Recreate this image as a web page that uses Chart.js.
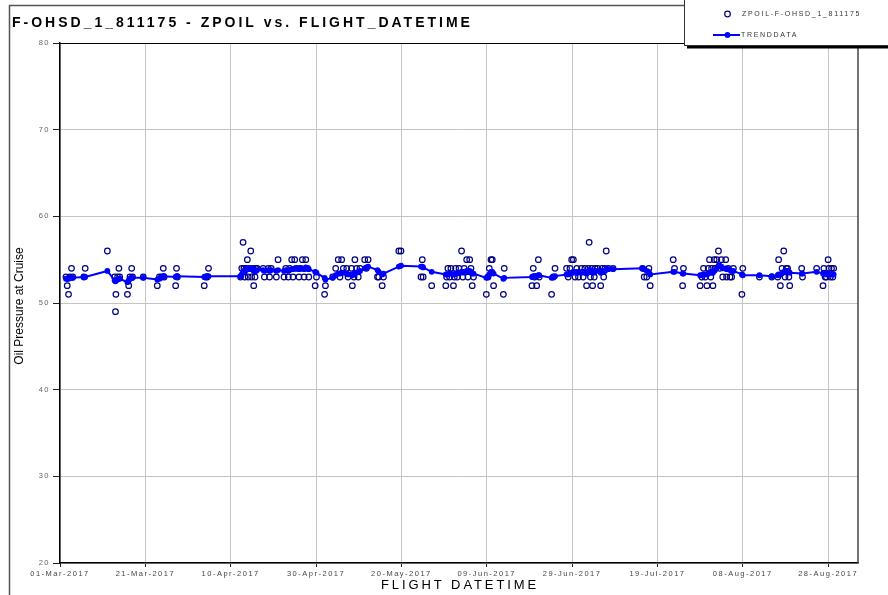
<!DOCTYPE html>
<html>
<head>
<meta charset="utf-8">
<script src="https://cdn.jsdelivr.net/npm/chart.js@4.4.1/dist/chart.umd.min.js"></script>
<style>
  html, body { margin: 0; padding: 0; background: #fff; }
  #wrap { width: 888px; height: 595px; position: relative; }
</style>
</head>
<body>
<div id="wrap"><canvas id="oilChart"></canvas></div>
<script>
const chartTitle = 'F-OHSD_1_811175 - ZPOIL vs. FLIGHT_DATETIME';
const seriesNames = ['ZPOIL-F-OHSD_1_811175', 'TRENDDATA'];
const xAxisTitle = 'FLIGHT DATETIME';
const yAxisTitle = 'Oil Pressure at Cruise';

// x values are days counted from 01-Mar-2017
const xTickDays = [0, 20, 40, 60, 80, 100, 120, 140, 160, 180];
const xTickLabels = ['01-Mar-2017', '21-Mar-2017', '10-Apr-2017', '30-Apr-2017', '20-May-2017',
  '09-Jun-2017', '29-Jun-2017', '19-Jul-2017', '08-Aug-2017', '28-Aug-2017'];
const yTicks = [20, 30, 40, 50, 60, 70, 80];

const flightDays = [
  1.4, 1.7, 2.0, 2.3, 2.7, 3.0, 5.6, 5.9, 11.1, 12.8, 13.0, 13.1, 13.5, 13.8, 14.0, 15.8, 16.1,
  16.4, 16.8, 17.0, 19.5, 22.8, 23.3, 23.8, 24.2, 24.4, 27.1, 27.3, 27.5, 33.8, 34.1, 34.5, 34.8,
  42.3, 42.6, 42.9, 43.1, 43.3, 43.6, 43.9, 44.1, 44.4, 44.7, 44.9, 45.2, 45.4, 45.7, 45.9, 46.2,
  47.6, 47.9, 48.8, 49.1, 49.5, 50.7, 51.1, 52.5, 52.9, 53.5, 53.8, 54.3, 54.6, 55.0, 55.4, 56.0,
  56.3, 56.8, 57.2, 57.6, 58.0, 58.3, 59.8, 60.1, 62.0, 62.2,
  63.9, 64.6, 65.2, 65.6, 66.0, 66.4, 67.2, 67.5, 68.3, 68.5, 68.9, 69.1, 69.5, 69.9, 70.3, 71.4,
  71.8, 72.2, 74.4, 74.7, 75.5, 75.8, 79.4, 79.9,
  84.6, 84.9, 85.1, 87.1, 90.4, 90.6, 90.9, 91.3, 91.6, 92.2, 92.4, 92.7, 93.1, 93.5, 94.1, 94.4,
  94.7, 95.3, 95.6, 96.0, 96.3, 96.6, 96.9, 99.9, 100.3, 100.6, 101.0, 101.3, 101.6, 103.9, 104.1,
  110.6, 110.9, 111.2, 111.7, 112.1, 112.3, 115.2, 115.6, 116.0, 118.7, 119.1, 119.5, 119.9, 120.3,
  120.7, 121.1, 121.5, 122.2, 122.6, 123.0, 123.4, 123.8, 124.0, 124.3, 124.6, 124.8, 125.2, 125.4,
  126.0, 126.7, 127.0, 127.4, 127.7, 128.0, 128.5, 129.6,
  136.5, 136.9, 137.5, 138.0, 138.3, 143.7, 144.0, 145.9, 146.1,
  150.0, 150.4, 150.8, 151.2, 151.6, 151.9, 152.2, 152.5, 152.7, 153.0, 153.3, 153.5, 153.9, 154.3,
  154.6, 155.0, 155.3, 156.0, 156.2, 156.6, 157.0, 157.4, 157.8, 159.8, 160.0,
  163.9, 166.8, 168.2, 168.4, 168.8, 169.2, 169.6, 169.9, 170.2, 170.5, 170.8, 171.0, 173.8, 174.0,
  177.3, 178.8, 179.0, 179.3, 179.6, 180.0, 180.2, 180.5, 180.8, 181.1, 181.3
];

const zpoil = [
  53, 52, 51, 53, 54, 53, 53, 54, 56, 53, 49, 51, 53, 54, 53, 51, 52,
  53, 54, 53, 53, 52, 53, 53, 54, 53, 52, 54, 53, 52, 53, 53, 54,
  53, 54, 57, 54, 53, 54, 55, 53, 54, 56, 53, 54, 52, 53, 54, 54,
  54, 53, 54, 53, 54, 53, 55, 53, 54, 53, 54, 55, 53, 55, 54, 53,
  54, 55, 53, 55, 54, 53, 52, 53, 51, 52,
  53, 54, 55, 53, 55, 54, 54, 53, 54, 52, 53, 55, 54, 53, 54, 55,
  54, 55, 53, 53, 52, 53, 56, 56,
  53, 55, 53, 52, 52, 53, 54, 53, 54, 52, 53, 54, 53, 54, 56, 53,
  54, 55, 53, 55, 54, 52, 53, 51, 53, 54, 55, 55, 52, 51, 54,
  52, 54, 53, 52, 55, 53, 51, 53, 54, 54, 53, 54, 55, 55,
  53, 54, 53, 54, 53, 54, 52, 54, 57, 53, 54, 52, 53, 54,
  54, 52, 54, 53, 54, 56, 54, 54,
  54, 53, 53, 54, 52, 55, 54, 52, 54,
  52, 53, 54, 53, 52, 54, 55, 53, 54, 52, 55, 54, 55, 56,
  54, 55, 53, 55, 53, 54, 53, 53, 54, 51, 54,
  53, 53, 53, 55, 52, 54, 56, 53, 54, 54, 53, 52, 54, 53,
  54, 52, 54, 53, 53, 55, 54, 53, 54, 53, 54
];

const trendData = [
  52.8, 52.8, 52.8, 52.9, 52.9, 52.9, 53.0, 53.0, 53.7, 52.6, 52.5, 52.6, 52.7, 52.8, 52.8, 52.4, 52.6,
  52.8, 52.9, 52.9, 52.9, 52.7, 52.8, 53.0, 53.1, 53.1, 53.0, 53.1, 53.1, 53.0, 53.0, 53.1, 53.1,
  53.1, 53.3, 53.6, 53.7, 53.6, 53.8, 54.0, 53.9, 53.9, 54.0, 53.9, 53.9, 53.7, 53.7, 53.7, 53.8,
  53.8, 53.7, 53.8, 53.7, 53.8, 53.7, 53.8, 53.7, 53.8, 53.7, 53.8, 53.9, 53.9, 54.0, 54.0, 53.9,
  54.0, 54.0, 53.9, 54.1, 54.0, 53.9, 53.6, 53.5, 52.9, 52.7,
  52.9, 53.2, 53.4, 53.4, 53.5, 53.5, 53.4, 53.3, 53.3, 53.2, 53.3, 53.5, 53.5, 53.6, 53.7, 54.0,
  54.1, 54.2, 53.8, 53.6, 53.3, 53.4, 54.2, 54.3,
  54.2, 54.2, 54.1, 53.6, 53.3, 53.3, 53.3, 53.4, 53.4, 53.3, 53.3, 53.4, 53.4, 53.5, 53.6, 53.5,
  53.6, 53.7, 53.6, 53.7, 53.6, 53.4, 53.4, 52.9, 53.0, 53.3, 53.6, 53.6, 53.4, 52.8, 52.9,
  53.0, 53.1, 53.1, 53.1, 53.2, 53.2, 52.9, 53.0, 53.1, 53.3, 53.3, 53.4, 53.5, 53.6,
  53.5, 53.6, 53.5, 53.6, 53.5, 53.6, 53.4, 53.6, 53.8, 53.7, 53.7, 53.5, 53.5, 53.7,
  53.7, 53.5, 53.7, 53.6, 53.7, 53.9, 53.9, 53.9,
  54.0, 53.9, 53.7, 53.6, 53.3, 53.6, 53.6, 53.4, 53.4,
  53.2, 53.2, 53.3, 53.3, 53.3, 53.4, 53.5, 53.5, 53.6, 53.5, 53.7, 53.8, 54.0, 54.3,
  54.3, 54.2, 54.0, 54.0, 53.9, 53.9, 53.8, 53.7, 53.7, 53.3, 53.2,
  53.2, 53.1, 53.2, 53.3, 53.3, 53.4, 53.6, 53.6, 53.7, 53.7, 53.6, 53.5, 53.4, 53.4,
  53.6, 53.4, 53.5, 53.4, 53.3, 53.4, 53.4, 53.3, 53.3, 53.3, 53.3
];

const FONT = '"Liberation Sans", Arial, sans-serif';

function spacedText(ctx, text, x, y, size, weight, spacing, color, align) {
  ctx.save();
  ctx.font = `${weight} ${size}px ${FONT}`;
  ctx.letterSpacing = spacing + 'px';
  ctx.fillStyle = color;
  ctx.textAlign = align;
  ctx.textBaseline = 'middle';
  ctx.fillText(text, x, y);
  ctx.restore();
}

const decorPlugin = {
  id: 'decor',
  beforeDraw(chart) {
    const ctx = chart.ctx;
    ctx.save();
    ctx.fillStyle = '#fff';
    ctx.fillRect(0, 0, chart.width, chart.height);
    ctx.restore();
    ctx.letterSpacing = '1.5px';   // spacing used by tick labels
  },
  beforeDatasetsDraw(chart) {
    chart.ctx.letterSpacing = '0px';
  },
  afterDraw(chart) {
    const ctx = chart.ctx;
    const a = chart.chartArea;
    ctx.save();
    // plot frame top / right
    ctx.strokeStyle = '#000';
    ctx.lineWidth = 1;
    ctx.beginPath();
    ctx.moveTo(a.left, a.top + 0.5);
    ctx.lineTo(a.right, a.top + 0.5);
    ctx.stroke();
    ctx.strokeStyle = '#444';
    ctx.lineWidth = 1.5;
    ctx.beginPath();
    ctx.moveTo(a.right, a.top);
    ctx.lineTo(a.right, a.bottom);
    ctx.stroke();

    // outer frame
    ctx.strokeStyle = '#555';
    ctx.lineWidth = 1.5;
    ctx.beginPath();
    ctx.moveTo(9.5, 600);
    ctx.lineTo(9.5, 5.5);
    ctx.lineTo(690, 5.5);
    ctx.stroke();

    // legend box with shadow
    ctx.fillStyle = '#000';
    ctx.fillRect(687, 45.5, 220, 3);
    ctx.fillStyle = '#fff';
    ctx.fillRect(684, -2, 220, 47.5);
    ctx.strokeStyle = '#333';
    ctx.lineWidth = 1;
    ctx.strokeRect(684.5, -2, 220, 47.5);

    ctx.strokeStyle = '#000080';
    ctx.lineWidth = 1.2;
    ctx.beginPath();
    ctx.arc(727.5, 14, 2.8, 0, Math.PI * 2);
    ctx.stroke();

    ctx.strokeStyle = '#0000ff';
    ctx.lineWidth = 2;
    ctx.beginPath();
    ctx.moveTo(713, 35);
    ctx.lineTo(740, 35);
    ctx.stroke();
    ctx.fillStyle = '#0000ff';
    ctx.beginPath();
    ctx.arc(727.5, 35, 2.9, 0, Math.PI * 2);
    ctx.fill();
    ctx.restore();

    spacedText(ctx, seriesNames[0], 742, 14, 7, 'normal', 1.7, '#333', 'left');
    spacedText(ctx, seriesNames[1], 741, 35, 7, 'normal', 1.7, '#333', 'left');

    // titles
    spacedText(ctx, chartTitle, 12, 23, 14, 'bold', 3, '#000', 'left');
    spacedText(ctx, xAxisTitle, 460, 585, 13, 'normal', 2.9, '#000', 'center');
    ctx.save();
    ctx.translate(20, 306);
    ctx.rotate(-Math.PI / 2);
    spacedText(ctx, yAxisTitle, 0, 0, 12, 'normal', 0, '#000', 'center');
    ctx.restore();
  }
};

const points = flightDays.map((d, i) => ({ x: d, y: zpoil[i] }));
const trendPoints = flightDays.map((d, i) => ({ x: d, y: trendData[i] }));

new Chart(document.getElementById('oilChart'), {
  type: 'scatter',
  data: {
    datasets: [{
      label: seriesNames[1],
      data: trendPoints,
      showLine: true,
      borderColor: '#0000ff',
      borderWidth: 2,
      pointRadius: 2.9,
      pointBackgroundColor: '#0000ff',
      pointBorderWidth: 0
    }, {
      label: seriesNames[0],
      data: points,
      pointStyle: 'circle',
      pointRadius: 2.8,
      pointBorderColor: '#000080',
      pointBorderWidth: 1.2,
      pointBackgroundColor: 'rgba(0,0,0,0)'
    }]
  },
  options: {
    responsive: true,
    maintainAspectRatio: false,
    animation: false,
    devicePixelRatio: 1,
    layout: { padding: { left: 0, top: 43, right: 30, bottom: 0 } },
    plugins: {
      legend: { display: false },
      title: { display: false },
      tooltip: { enabled: false }
    },
    scales: {
      x: {
        type: 'linear',
        min: 0,
        max: 187,
        afterBuildTicks: (scale) => {
          scale.ticks = xTickDays.map(v => ({ value: v }));
        },
        afterFit: (scale) => { scale.height = 32; },
        ticks: {
          autoSkip: false,
          maxRotation: 0,
          padding: 2,
          color: '#444',
          font: { family: FONT, size: 7.5 },
          callback: (value) => xTickLabels[xTickDays.indexOf(value)]
        },
        grid: { color: '#c4c4c4', lineWidth: 1, tickColor: '#222', tickLength: 4 },
        border: { color: '#000', width: 1.5 }
      },
      y: {
        min: 20,
        max: 80,
        afterBuildTicks: (scale) => {
          scale.ticks = yTicks.map(v => ({ value: v }));
        },
        afterFit: (scale) => { scale.width = 60; },
        ticks: {
          padding: 3,
          color: '#666',
          font: { family: FONT, size: 7.5 }
        },
        grid: { color: '#c4c4c4', lineWidth: 1, tickColor: '#222', tickLength: 7 },
        border: { color: '#000', width: 1.5 }
      }
    }
  },
  plugins: [decorPlugin]
});
</script>
</body>
</html>
